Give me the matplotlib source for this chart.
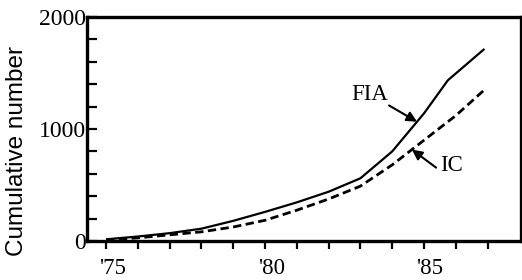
import matplotlib
matplotlib.use('Agg')
import matplotlib.pyplot as plt
import matplotlib.transforms as mtransforms

# cumulative counts
fia_years = [1975, 1976, 1977, 1978, 1979, 1980, 1981, 1982, 1983, 1984, 1985, 1985.75, 1986.9]
fia_vals = [15, 40, 70, 110, 180, 260, 345, 440, 560, 800, 1140, 1435, 1715]

ic_years = [1975, 1976, 1977, 1978, 1979, 1980, 1981, 1982, 1983, 1984, 1985, 1986, 1986.9]
ic_vals = [8, 28, 55, 82, 125, 185, 275, 375, 490, 680, 900, 1120, 1350]

xtick_years = list(range(1975, 1988))
xlabel_map = {1975: "'75", 1980: "'80", 1985: "'85"}
yticks = list(range(0, 2001, 200))
ylabel_map = {0: "0", 1000: "1000", 2000: "2000"}

serif = ['Liberation Serif', 'DejaVu Serif']
sans = ['Liberation Sans', 'DejaVu Sans']

fig = plt.figure(figsize=(5.22, 2.80), dpi=100)
ax = fig.add_axes([87 / 522, 1 - 241 / 280, 434 / 522, 224 / 280])

ax.plot(fia_years, fia_vals, color='black', lw=1.6, solid_capstyle='butt')
ax.plot(ic_years, ic_vals, color='black', lw=2.0, linestyle=(0, (3, 1.6)))

ax.set_xlim(1974.4, 1988.05)
ax.set_ylim(0, 2000)

ax.set_xticks(xtick_years)
ax.set_xticklabels([xlabel_map.get(y, '') for y in xtick_years],
                   fontfamily=serif, fontsize=16.5)
ax.set_yticks(yticks)
ax.set_yticklabels([ylabel_map.get(v, '') for v in yticks],
                   fontfamily=serif, fontsize=17)

ax.tick_params(axis='x', direction='out', length=6, width=1.6, pad=6.5)
ax.tick_params(axis='y', direction='in', length=7, width=1.6, pad=1)

# year labels sit a little right of their ticks in the original
shift = mtransforms.ScaledTranslation(0.06, 0, fig.dpi_scale_trans)
for lab in ax.get_xticklabels():
    lab.set_transform(lab.get_transform() + shift)

for s in ax.spines.values():
    s.set_linewidth(2.4)

ax.set_ylabel('Cumulative number', fontfamily=sans, fontsize=17.5)
ax.yaxis.set_label_coords(-0.136, 0.40)

arrow = dict(arrowstyle='-|>', color='black', lw=1.5, mutation_scale=15,
             shrinkA=0, shrinkB=0)
ax.annotate('FIA', xy=(1984.78, 1065), xytext=(1983.3, 1304),
            fontfamily=serif, fontsize=16.5, ha='center', va='center')
ax.annotate('', xy=(1984.78, 1065), xytext=(1983.9, 1210), arrowprops=arrow)
ax.annotate('IC', xy=(1985.85, 674), xytext=(1985.85, 674),
            fontfamily=serif, fontsize=16.5, ha='center', va='center')
ax.annotate('', xy=(1984.62, 816), xytext=(1985.38, 655), arrowprops=arrow)

fig.savefig('out.png', dpi=100)
